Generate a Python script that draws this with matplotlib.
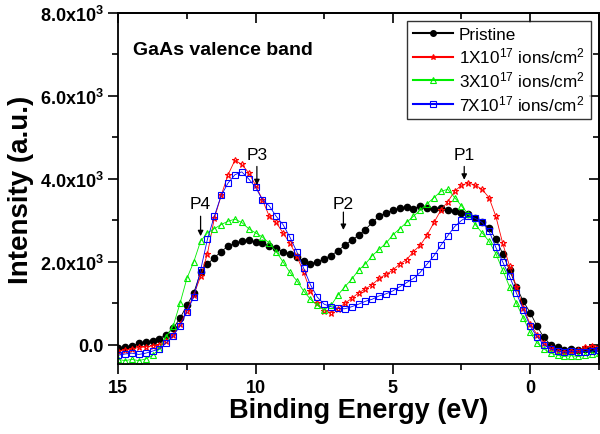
import matplotlib.pyplot as plt
import numpy as np

plt.rcParams['font.family'] = ['Liberation Sans', 'DejaVu Sans']
plt.rcParams['mathtext.default'] = 'regular'

# Binding energy grid (eV), 15 down to -2.5 in 0.25 eV steps
energy = np.linspace(15, -2.5, 71)

pristine = [-80, -60, -30, 40, 60, 100, 150, 250, 400, 640,
            950, 1250, 1750, 1950, 2100, 2250, 2380, 2450, 2500, 2520,
            2480, 2450, 2380, 2330, 2250, 2200, 2120, 2020, 1960, 2000,
            2080, 2150, 2270, 2400, 2520, 2640, 2780, 2950, 3100, 3180,
            3250, 3300, 3320, 3280, 3350, 3300, 3280, 3300, 3260, 3230,
            3180, 3150, 3050, 2950, 2820, 2550, 2200, 1800, 1400, 1050,
            780, 450, 180, 0, -60, -120, -100, -130, -110, -90, -80]
dose1 = [-150, -120, -100, -60, -50, -20, 0, 100, 250, 500,
         820, 1200, 1650, 2200, 3050, 3600, 4100, 4450, 4350, 4150,
         3850, 3500, 3100, 2950, 2700, 2450, 2150, 1750, 1300, 1000,
         820, 780, 870, 1000, 1120, 1250, 1350, 1450, 1600, 1700,
         1800, 1950, 2050, 2250, 2400, 2650, 2950, 3250, 3450, 3700,
         3850, 3900, 3850, 3750, 3550, 3100, 2450, 1900, 1400, 900,
         500, 250, 50, -80, -150, -160, -150, -130, -60, -20, -40]
dose3 = [-350, -380, -350, -380, -340, -250, -100, 200, 450, 1000,
         1600, 2000, 2500, 2700, 2800, 2900, 2980, 3030, 2950, 2800,
         2700, 2600, 2450, 2250, 2000, 1750, 1550, 1300, 1100, 950,
         850, 950, 1200, 1400, 1580, 1800, 1950, 2150, 2300, 2450,
         2650, 2800, 2950, 3100, 3250, 3400, 3550, 3700, 3750, 3550,
         3350, 3150, 2900, 2700, 2500, 2200, 1800, 1400, 1000, 650,
         300, 50, -100, -200, -250, -280, -260, -280, -250, -230, -200]
dose7 = [-250, -220, -200, -230, -200, -150, -100, 50, 220, 450,
         800, 1150, 1800, 2550, 3100, 3600, 3900, 4100, 4170, 4000,
         3800, 3500, 3350, 3100, 2900, 2600, 2250, 1850, 1450, 1150,
         980, 920, 880, 870, 920, 980, 1050, 1100, 1180, 1230,
         1300, 1400, 1500, 1600, 1750, 1950, 2150, 2400, 2630, 2850,
         3000, 3100, 3050, 2950, 2750, 2350, 2000, 1650, 1250, 850,
         450, 200, 0, -100, -150, -180, -150, -170, -160, -150, -120]

labels = ['Pristine', '1X10$^{17}$ ions/cm$^{2}$',
          '3X10$^{17}$ ions/cm$^{2}$', '7X10$^{17}$ ions/cm$^{2}$']
colors = ['black', 'red', '#00ee00', 'blue']
markers = ['o', '*', '^', 's']

ytick_vals = [0, 2000, 4000, 6000, 8000]
ytick_labels = ['0.0', '2.0x10$^{3}$', '4.0x10$^{3}$', '6.0x10$^{3}$', '8.0x10$^{3}$']
xtick_vals = [15, 10, 5, 0]
xminor = [12.5, 7.5, 2.5, -2.5]
yminor = [1000, 3000, 5000, 7000]

# peak markers: name, energy, text height, arrow top, arrow tip
peaks = [('P4', 12.0, 3400, 3100, 2620),
         ('P3', 9.95, 4600, 4300, 3850),
         ('P2', 6.8, 3400, 3200, 2770),
         ('P1', 2.4, 4600, 4300, 3980)]

fig = plt.figure(figsize=(6, 4.35), dpi=100)
ax = fig.add_axes([0.197, 0.161, 0.801, 0.807])

for ys, lab, c, m in zip([pristine, dose1, dose3, dose7], labels, colors, markers):
    if m == 'o':
        ax.plot(energy, ys, color=c, lw=0.6, marker=m, ms=4.5, mfc=c, mec=c, label=lab)
    else:
        ax.plot(energy, ys, color=c, lw=0.6, marker=m, ms=5, mfc='none', mec=c,
                mew=0.8, label=lab)

ax.set_xlim(15, -2.5)
ax.set_ylim(-460, 8000)
ax.set_xticks(xtick_vals)
ax.set_xticks(xminor, minor=True)
ax.set_yticks(ytick_vals, ytick_labels)
ax.set_yticks(yminor, minor=True)
for lbl in ax.get_xticklabels() + ax.get_yticklabels():
    lbl.set_fontweight('bold')
    lbl.set_fontsize(13)

ax.tick_params(which='both', direction='out', width=1.2)
ax.tick_params(which='major', length=7)
ax.tick_params(which='minor', length=4)

# mirrored inward ticks on top and right
sec_x = ax.secondary_xaxis('top')
sec_x.set_xticks(xtick_vals, [])
sec_x.set_xticks(xminor, minor=True)
sec_y = ax.secondary_yaxis('right')
sec_y.set_yticks(ytick_vals, [])
sec_y.set_yticks(yminor, minor=True)
for sec in [sec_x, sec_y]:
    sec.tick_params(which='both', direction='in', width=1.2)
    sec.tick_params(which='major', length=7)
    sec.tick_params(which='minor', length=4)
for sp in list(ax.spines.values()) + [sec_x.spines['top'], sec_y.spines['right']]:
    sp.set_linewidth(1.3)

ax.set_xlabel('Binding Energy (eV)', fontsize=19.5, fontweight='bold', labelpad=1)
ax.set_ylabel('Intensity (a.u.)', fontsize=20, fontweight='bold', labelpad=4)

ax.text(14.45, 7130, 'GaAs valence band', fontsize=14, fontweight='bold', va='center')

for name, x, ty, y0, y1 in peaks:
    ax.text(x, ty, name, fontsize=12.5, ha='center', va='center')
    ax.annotate('', xy=(x, y1), xytext=(x, y0),
                arrowprops=dict(arrowstyle='-|>', color='black', lw=0.9,
                                mutation_scale=8, shrinkA=0, shrinkB=0))

leg = ax.legend(loc='upper right', bbox_to_anchor=(0.983, 0.977), fontsize=12.3,
                frameon=True, fancybox=False, borderaxespad=0, handlelength=2.3,
                handletextpad=0.35, labelspacing=0.22, borderpad=0.35)
leg.get_frame().set_edgecolor('black')
leg.get_frame().set_linewidth(1.0)
for h in leg.legend_handles:
    h.set_linewidth(1.5)
    h.set_markersize(4)

fig.savefig('out.png', dpi=100)
